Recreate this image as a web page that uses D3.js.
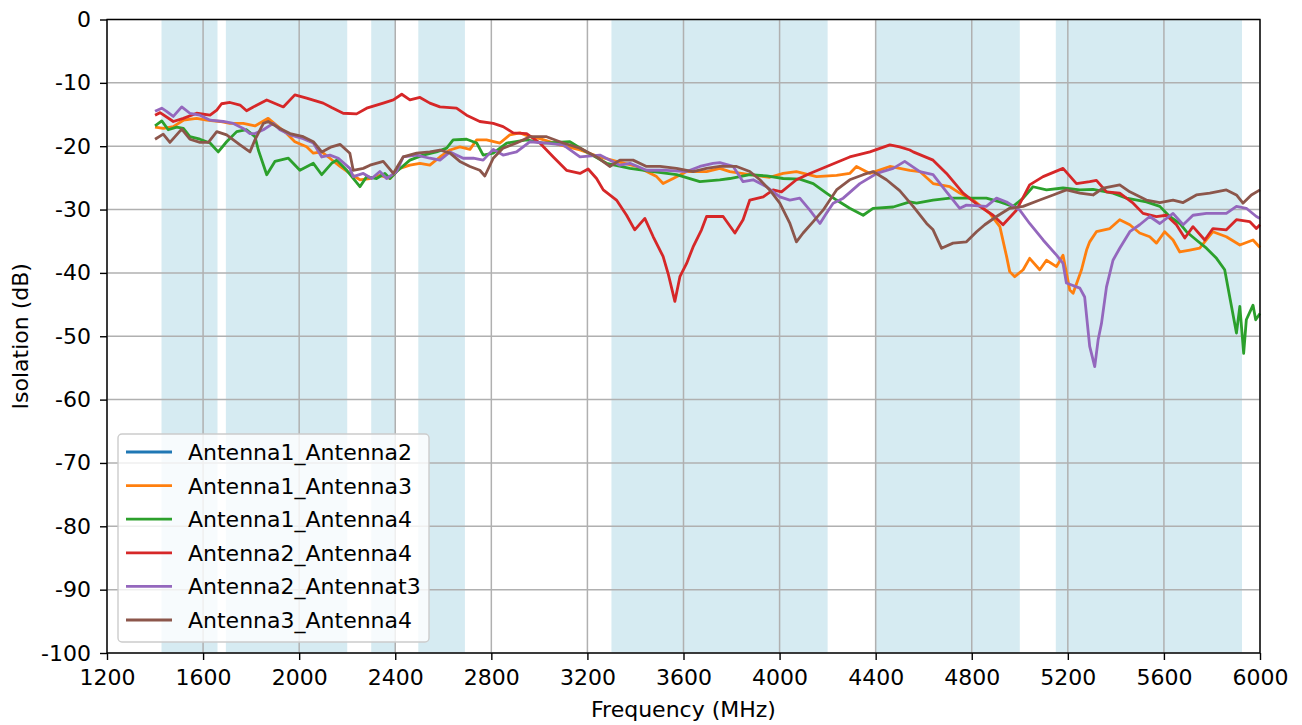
<!DOCTYPE html>
<html>
<head>
<meta charset="utf-8">
<script src="https://cdn.jsdelivr.net/npm/d3@7"></script>
<style>
	body { margin: 0; background: #fff; }
	text { font-family: "DejaVu Sans", sans-serif; }
</style>
</head>
<body>
<script>
'use strict';

// Shaded frequency bands (MHz)
const bands = [[1427, 1660], [1695, 2200], [2300, 2400], [2496, 2690], [3300, 4200], [4400, 5000], [5150, 5925]];

const xTicks = [1200, 1600, 2000, 2400, 2800, 3200, 3600, 4000, 4400, 4800, 5200, 5600, 6000];
const yTicks = [0, -10, -20, -30, -40, -50, -60, -70, -80, -90, -100];

const seriesNames = ["Antenna1_Antenna2", "Antenna1_Antenna3", "Antenna1_Antenna4",
	"Antenna2_Antenna4", "Antenna2_Antennat3", "Antenna3_Antenna4"];
const seriesColors = ["#1f77b4", "#ff7f0e", "#2ca02c", "#d62728", "#9467bd", "#8c564b"];

// [frequency MHz, isolation dB]
const ant1ant2 = [];

const ant1ant3 = [[1400,-17.0],[1434,-17.2],[1476,-16.9],[1518,-15.9],[1573,-15.6],[1615,-15.9],[1670,-16.1],[1712,-16.4],[1767,-16.4],[1816,-16.8],[1871,-15.6],[1906,-16.7],[1948,-18.0],[1982,-19.3],[2031,-20.1],[2059,-21.1],[2094,-20.9],[2128,-21.9],[2170,-23.2],[2211,-24.3],[2253,-25.3],[2295,-25.1],[2336,-24.6],[2378,-25.1],[2419,-23.5],[2461,-23.0],[2503,-22.7],[2544,-23.0],[2586,-21.7],[2628,-20.6],[2669,-20.1],[2711,-20.5],[2739,-19.0],[2780,-19.0],[2836,-19.5],[2877,-18.2],[2919,-17.9],[2960,-18.5],[3002,-18.8],[3085,-19.8],[3169,-20.6],[3252,-21.7],[3321,-22.4],[3405,-23.2],[3488,-24.8],[3515,-25.9],[3557,-25.1],[3613,-24.0],[3696,-24.0],[3751,-23.5],[3793,-24.0],[3876,-24.5],[3959,-24.9],[4015,-24.3],[4070,-24.0],[4154,-24.8],[4237,-24.6],[4292,-24.3],[4320,-23.2],[4376,-24.3],[4459,-23.2],[4542,-23.8],[4584,-24.0],[4639,-25.9],[4709,-26.4],[4750,-27.4],[4806,-28.5],[4875,-30.6],[4917,-32.7],[4945,-37.4],[4958,-39.8],[4979,-40.6],[5014,-39.5],[5041,-37.7],[5083,-39.5],[5111,-38.0],[5153,-39.0],[5180,-37.2],[5208,-42.7],[5222,-43.2],[5257,-39.5],[5278,-36.4],[5291,-35.1],[5319,-33.5],[5375,-33.0],[5416,-31.6],[5458,-32.4],[5499,-33.7],[5541,-34.3],[5569,-35.3],[5603,-33.5],[5638,-34.8],[5666,-36.7],[5708,-36.4],[5749,-36.1],[5804,-33.5],[5860,-34.3],[5916,-35.6],[5971,-34.8],[6000,-36.0]];

const ant1ant4 = [[1400,-16.8],[1428,-16.0],[1455,-17.4],[1490,-17.0],[1518,-17.2],[1545,-18.5],[1587,-18.9],[1629,-19.5],[1663,-20.9],[1698,-19.3],[1740,-17.7],[1781,-17.4],[1816,-18.5],[1830,-20.6],[1865,-24.5],[1899,-22.4],[1955,-21.9],[2003,-23.8],[2059,-22.7],[2094,-24.5],[2135,-22.7],[2156,-22.2],[2198,-23.8],[2253,-26.4],[2281,-24.8],[2322,-25.1],[2357,-24.3],[2378,-25.1],[2406,-24.0],[2461,-22.2],[2516,-21.4],[2572,-20.9],[2614,-20.3],[2641,-19.0],[2697,-18.9],[2739,-19.5],[2766,-21.4],[2808,-21.1],[2864,-19.5],[2947,-19.0],[3016,-19.5],[3127,-19.3],[3196,-20.9],[3280,-22.7],[3377,-23.5],[3474,-24.0],[3571,-24.5],[3668,-25.6],[3751,-25.3],[3793,-25.1],[3876,-24.5],[3946,-24.7],[4015,-25.1],[4084,-25.2],[4140,-25.9],[4195,-27.4],[4237,-28.5],[4292,-29.8],[4348,-30.9],[4389,-29.8],[4473,-29.6],[4542,-28.8],[4570,-29.0],[4639,-28.5],[4709,-28.2],[4778,-28.2],[4861,-28.2],[4917,-28.8],[4972,-29.5],[5014,-28.2],[5055,-26.4],[5111,-26.9],[5180,-26.6],[5250,-26.9],[5305,-26.8],[5388,-27.4],[5444,-28.2],[5527,-28.8],[5583,-29.5],[5624,-31.1],[5666,-32.2],[5694,-33.5],[5735,-34.8],[5777,-36.1],[5819,-37.7],[5853,-39.5],[5874,-43.8],[5902,-49.5],[5916,-45.3],[5932,-52.7],[5943,-47.4],[5971,-45.1],[5982,-47.4],[6000,-46.4]];

const ant2ant4 = [[1400,-15.1],[1421,-14.7],[1476,-16.1],[1518,-15.6],[1573,-14.8],[1629,-15.1],[1657,-14.3],[1677,-13.3],[1712,-13.1],[1754,-13.5],[1781,-14.4],[1809,-13.8],[1865,-12.7],[1934,-13.8],[1982,-11.9],[2031,-12.4],[2100,-13.2],[2135,-13.9],[2183,-14.8],[2239,-14.9],[2281,-14.0],[2350,-13.2],[2392,-12.7],[2427,-11.8],[2461,-12.7],[2503,-12.3],[2544,-13.2],[2586,-13.8],[2655,-14.0],[2697,-15.1],[2752,-16.1],[2808,-16.4],[2849,-16.9],[2891,-17.9],[2947,-18.0],[3002,-19.5],[3058,-21.7],[3113,-23.8],[3169,-24.3],[3203,-23.6],[3238,-25.1],[3266,-26.9],[3321,-28.5],[3363,-30.9],[3397,-33.2],[3439,-31.4],[3474,-34.3],[3515,-37.4],[3536,-40.1],[3564,-44.5],[3585,-40.6],[3613,-38.5],[3640,-35.9],[3675,-33.2],[3696,-31.1],[3751,-31.1],[3765,-31.1],[3814,-33.7],[3848,-31.6],[3876,-28.5],[3932,-28.0],[3973,-26.9],[4008,-27.2],[4070,-25.3],[4126,-24.3],[4209,-23.0],[4292,-21.7],[4376,-20.9],[4459,-19.8],[4500,-20.1],[4542,-20.6],[4556,-20.9],[4639,-22.2],[4695,-24.3],[4764,-27.4],[4833,-29.5],[4889,-30.9],[4930,-32.4],[4986,-30.1],[5041,-26.1],[5097,-24.8],[5180,-23.5],[5236,-25.9],[5291,-25.6],[5319,-25.4],[5361,-27.2],[5416,-27.4],[5472,-29.0],[5513,-30.6],[5569,-31.1],[5610,-30.9],[5652,-32.4],[5687,-34.5],[5721,-32.7],[5770,-34.8],[5804,-33.0],[5860,-33.2],[5902,-31.6],[5957,-31.9],[5985,-33.0],[6000,-32.4]];

const ant2ant3 = [[1400,-14.5],[1428,-14.0],[1448,-14.5],[1476,-15.3],[1511,-13.8],[1545,-14.8],[1587,-15.1],[1629,-15.9],[1684,-16.1],[1726,-16.4],[1767,-17.2],[1795,-18.0],[1816,-18.0],[1851,-17.4],[1892,-16.4],[1920,-17.4],[1962,-18.2],[2017,-18.8],[2059,-19.5],[2094,-21.7],[2128,-21.4],[2163,-21.9],[2211,-23.5],[2225,-24.8],[2267,-24.3],[2302,-25.1],[2336,-24.0],[2364,-25.1],[2406,-24.0],[2433,-21.7],[2489,-21.4],[2544,-21.9],[2586,-22.2],[2628,-20.9],[2683,-21.9],[2725,-21.9],[2766,-22.2],[2808,-20.5],[2849,-21.4],[2905,-20.9],[2960,-19.3],[3030,-19.5],[3099,-19.8],[3169,-21.7],[3252,-21.4],[3335,-23.0],[3377,-22.7],[3446,-23.8],[3530,-23.8],[3613,-24.0],[3668,-23.2],[3723,-22.7],[3751,-22.6],[3807,-23.2],[3848,-25.6],[3890,-25.3],[3946,-26.4],[4001,-28.0],[4043,-28.5],[4084,-28.2],[4126,-30.1],[4168,-32.2],[4195,-30.6],[4223,-29.0],[4265,-28.2],[4334,-25.9],[4404,-24.3],[4473,-23.5],[4521,-22.4],[4584,-24.0],[4639,-24.5],[4695,-27.2],[4750,-29.8],[4778,-29.3],[4861,-29.5],[4903,-28.2],[4945,-28.8],[5000,-30.1],[5041,-32.2],[5097,-34.8],[5153,-37.2],[5180,-38.5],[5194,-41.6],[5250,-42.4],[5270,-43.8],[5291,-51.6],[5312,-54.8],[5326,-50.6],[5340,-48.0],[5361,-42.2],[5388,-38.0],[5416,-36.1],[5458,-33.5],[5499,-32.4],[5541,-31.1],[5583,-32.2],[5638,-30.6],[5680,-32.4],[5721,-30.9],[5777,-30.6],[5860,-30.6],[5902,-29.5],[5943,-29.8],[5985,-31.1],[6000,-31.4]];

const ant3ant4 = [[1400,-18.9],[1434,-18.1],[1462,-19.4],[1511,-17.3],[1545,-18.9],[1587,-19.4],[1622,-19.4],[1657,-17.7],[1698,-18.2],[1754,-19.8],[1795,-20.9],[1816,-19.0],[1851,-16.4],[1871,-16.1],[1920,-17.2],[1962,-18.0],[2017,-18.5],[2059,-19.3],[2094,-20.9],[2135,-20.1],[2170,-19.7],[2211,-21.1],[2225,-23.8],[2267,-23.5],[2295,-23.0],[2350,-22.4],[2392,-24.3],[2433,-21.7],[2489,-21.1],[2544,-20.9],[2586,-20.6],[2628,-21.1],[2669,-22.4],[2711,-23.2],[2752,-23.8],[2773,-24.7],[2808,-21.9],[2849,-20.3],[2905,-19.5],[2960,-18.5],[3030,-18.5],[3099,-19.5],[3169,-20.3],[3238,-21.7],[3293,-23.2],[3335,-22.2],[3390,-22.2],[3446,-23.2],[3502,-23.2],[3571,-23.5],[3640,-24.0],[3696,-23.5],[3751,-23.2],[3821,-23.2],[3876,-24.0],[3918,-25.3],[3959,-26.9],[4001,-29.0],[4043,-32.2],[4070,-35.1],[4098,-33.7],[4140,-31.9],[4181,-30.1],[4237,-26.9],[4292,-25.3],[4348,-24.5],[4389,-24.0],[4445,-25.3],[4500,-27.0],[4556,-29.5],[4612,-32.2],[4639,-33.2],[4674,-36.1],[4722,-35.3],[4778,-35.1],[4820,-33.5],[4854,-32.4],[4903,-31.1],[4958,-29.8],[5014,-29.5],[5083,-28.5],[5139,-27.7],[5194,-26.9],[5250,-27.4],[5305,-27.7],[5347,-26.6],[5416,-26.1],[5458,-27.2],[5527,-28.5],[5583,-28.9],[5638,-28.5],[5680,-28.9],[5735,-27.7],[5791,-27.4],[5860,-26.9],[5902,-27.7],[5929,-29.0],[5964,-27.7],[6000,-26.9]];

const seriesData = [ant1ant2, ant1ant3, ant1ant4, ant2ant4, ant2ant3, ant3ant4];

const params = {
	width: 1302,
	height: 725,
	left: 107,
	right: 1260,
	top: 19.5,
	bottom: 653,
	font: 22
};

const svg = d3.select("body").append("svg")
	.attr("width", params.width)
	.attr("height", params.height);

const xScale = d3.scaleLinear().domain([1200, 6000]).range([params.left, params.right]);
const yScale = d3.scaleLinear().domain([-100, 0]).range([params.bottom, params.top]);

// shaded bands
svg.append("g").selectAll("rect")
	.data(bands)
	.join("rect")
	.attr("x", d => xScale(d[0]))
	.attr("width", d => xScale(d[1]) - xScale(d[0]))
	.attr("y", params.top)
	.attr("height", params.bottom - params.top)
	.attr("fill", "#add8e6")
	.attr("fill-opacity", 0.5);

// grid
const grid = svg.append("g").attr("stroke", "#b0b0b0").attr("stroke-width", 1.5);
grid.selectAll("line.gx").data(xTicks).join("line")
	.attr("class", "gx")
	.attr("x1", d => xScale(d)).attr("x2", d => xScale(d))
	.attr("y1", params.top).attr("y2", params.bottom);
grid.selectAll("line.gy").data(yTicks).join("line")
	.attr("class", "gy")
	.attr("y1", d => yScale(d)).attr("y2", d => yScale(d))
	.attr("x1", params.left).attr("x2", params.right);

// lines
const line = d3.line()
	.x(d => xScale(d[0]))
	.y(d => yScale(d[1]));

svg.append("g")
	.attr("fill", "none")
	.attr("stroke-width", 2.8)
	.attr("stroke-linejoin", "round")
	.selectAll("path")
	.data(seriesData)
	.join("path")
	.attr("stroke", (d, i) => seriesColors[i])
	.attr("d", d => d.length ? line(d) : null);

// axes
const xAxis = svg.append("g")
	.attr("transform", `translate(0,${params.bottom})`)
	.call(d3.axisBottom(xScale).tickValues(xTicks).tickFormat(d3.format("d")).tickSize(7).tickPadding(9).tickSizeOuter(0));
const yAxis = svg.append("g")
	.attr("transform", `translate(${params.left},0)`)
	.call(d3.axisLeft(yScale).tickValues(yTicks).tickFormat(d => String(d)).tickSize(7).tickPadding(9).tickSizeOuter(0));

for (const ax of [xAxis, yAxis]) {
	ax.selectAll("text").attr("font-size", params.font).attr("fill", "#000")
		.attr("font-family", '"DejaVu Sans", sans-serif');
	ax.selectAll("line").attr("stroke", "#000").attr("stroke-width", 1.4);
	ax.select(".domain").remove();
}

// spines
svg.append("rect")
	.attr("x", params.left).attr("y", params.top)
	.attr("width", params.right - params.left)
	.attr("height", params.bottom - params.top)
	.attr("fill", "none")
	.attr("stroke", "#000")
	.attr("stroke-width", 1.4);

// axis labels
svg.append("text")
	.attr("x", (params.left + params.right) / 2)
	.attr("y", 717)
	.attr("text-anchor", "middle")
	.attr("font-size", params.font)
	.text("Frequency (MHz)");

svg.append("text")
	.attr("transform", `translate(28,${(params.top + params.bottom) / 2}) rotate(-90)`)
	.attr("text-anchor", "middle")
	.attr("font-size", params.font)
	.text("Isolation (dB)");

// legend
const legend = svg.append("g").attr("transform", "translate(118,434)");
legend.append("rect")
	.attr("width", 311).attr("height", 208)
	.attr("rx", 4)
	.attr("fill", "#fff").attr("fill-opacity", 0.8)
	.attr("stroke", "#cccccc").attr("stroke-width", 1.4);

const rows = legend.selectAll("g.row")
	.data(seriesNames)
	.join("g")
	.attr("class", "row")
	.attr("transform", (d, i) => `translate(0,${18 + i * 33.6})`);
rows.append("line")
	.attr("x1", 8).attr("x2", 54)
	.attr("stroke", (d, i) => seriesColors[i])
	.attr("stroke-width", 2.8);
rows.append("text")
	.attr("x", 70)
	.attr("dy", "0.36em")
	.attr("font-size", params.font)
	.text(d => d);
</script>
</body>
</html>
